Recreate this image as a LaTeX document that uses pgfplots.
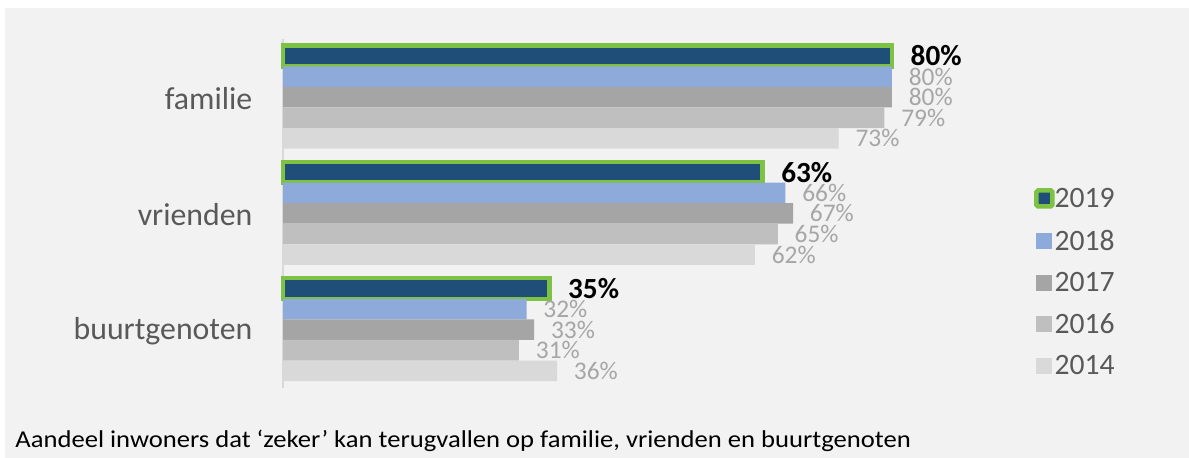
\documentclass[border=0pt]{standalone}
\usepackage{pgfplots}
\pgfplotsset{compat=1.18}
\usepackage{fontspec}
\setmainfont{Carlito}
\definecolor{cdark}{HTML}{1F4E79}
\definecolor{cgreen}{HTML}{7DC242}
\definecolor{c2018}{HTML}{8EAADB}
\definecolor{c2017}{HTML}{A5A5A5}
\definecolor{c2016}{HTML}{BFBFBF}
\definecolor{c2014}{HTML}{D9D9D9}
\definecolor{cbg}{HTML}{F2F2F2}
\definecolor{clbl}{HTML}{A6A6A6}
\definecolor{ctxt}{HTML}{595959}
\begin{document}
\begin{tikzpicture}
\fill[white] (0,0) rectangle (594.5pt,-229pt);
\fill[cbg] (2.5pt,-4pt) rectangle (594.5pt,-229pt);
\begin{axis}[
  at={(141.5pt,-193.9pt)}, anchor=south west,
  scale only axis, width=380.6pt, height=174.4pt,
  xbar, bar width=0.177,
  xmin=0, xmax=100, ymin=-0.5, ymax=2.5, y dir=reverse,
  axis x line=none, axis y line=left,
  y axis line style={draw=c2014, line width=1pt, -},
  ytick={0,1,2}, yticklabels={familie,vrienden,buurtgenoten},
  ytick style={draw=none},
  yticklabel style={font=\fontsize{15.9}{15.9}\selectfont, text=ctxt, inner sep=0pt, xshift=-13pt, yshift=-0.8pt},
  clip=false,
  /pgf/number format/assume math mode=true,
  /pgf/number format/precision=0,
  nodes near coords={\pgfmathprintnumber{\pgfplotspointmeta}\%},
  point meta=x,
  every node near coord/.append style={anchor=west, inner sep=0pt, xshift=8.25pt, font=\fontsize{12.7}{12.7}\selectfont, text=clbl},
  legend cell align=left,
  legend style={at={(axis description cs:0.9863,0.5734)}, anchor=north west, draw=none, fill=none, inner sep=0pt,
    font=\fontsize{14.8}{14.8}\selectfont, text=ctxt, row sep=11.55pt,
    nodes={inner sep=0pt, text height=9.2pt, text depth=0pt},
    /tikz/every even column/.append style={column sep=5pt}},
]
\addplot[fill=cdark, draw=cgreen, line width=2.25pt, bar shift=-0.354,
  legend image code/.code={\draw[fill=cdark, draw=cgreen, line width=2.25pt, rounded corners=0.8pt] (0pt,-4pt) rectangle (8pt,4pt);},
  nodes near coords style={font=\bfseries\fontsize{14.6}{14.6}\selectfont, text=black}]
  coordinates {(80,0) (63,1) (35,2)};
\addplot[fill=c2018, draw=none, bar shift=-0.177,
  legend image code/.code={\fill[c2018] (0pt,-4pt) rectangle (8pt,4pt);}]
  coordinates {(80,0) (66,1) (32,2)};
\addplot[fill=c2017, draw=none, bar shift=0,
  legend image code/.code={\fill[c2017] (0pt,-4pt) rectangle (8pt,4pt);}]
  coordinates {(80,0) (67,1) (33,2)};
\addplot[fill=c2016, draw=none, bar shift=0.177,
  legend image code/.code={\fill[c2016] (0pt,-4pt) rectangle (8pt,4pt);}]
  coordinates {(79,0) (65,1) (31,2)};
\addplot[fill=c2014, draw=none, bar shift=0.354,
  legend image code/.code={\fill[c2014] (0pt,-4pt) rectangle (8pt,4pt);}]
  coordinates {(73,0) (62,1) (36,2)};
\legend{2019,2018,2017,2016,2014}
\end{axis}
\node[anchor=base west, inner sep=0pt, font=\fontsize{12.1}{12.1}\selectfont, text=black] at (7.5pt,-223.85pt) {\scalebox{1.1}[1]{Aandeel inwoners dat ‘zeker’ kan terugvallen op familie, vrienden en buurtgenoten}};
\end{tikzpicture}
\end{document}
